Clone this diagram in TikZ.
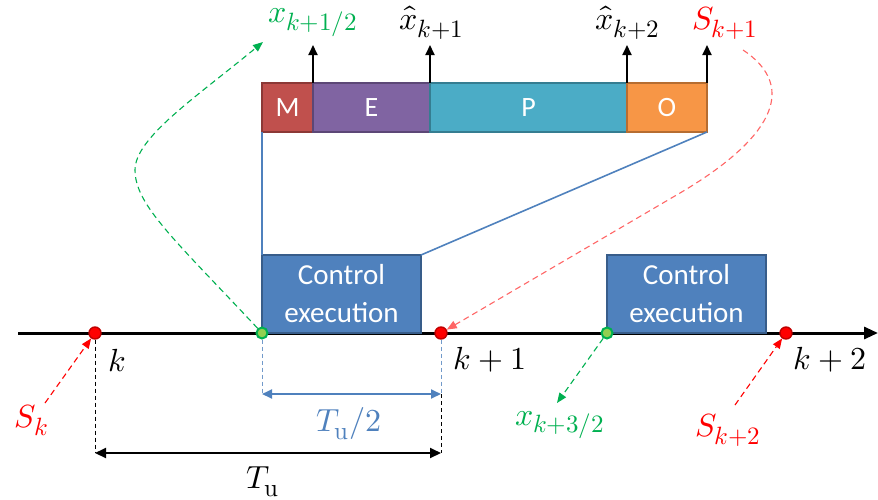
\documentclass[tikz,border=0pt]{standalone}
\usepackage{fontspec}
\setmainfont{Carlito}
\usepackage{unicode-math}
\DeclareMathSizes{16}{16}{12.5}{10}
\usetikzlibrary{arrows.meta}
\definecolor{cblue}{HTML}{4F81BD}
\definecolor{cblued}{HTML}{385D8A}
\definecolor{cM}{HTML}{C0504D}\definecolor{cMd}{HTML}{8C3836}
\definecolor{cE}{HTML}{8064A2}\definecolor{cEd}{HTML}{5C4776}
\definecolor{cP}{HTML}{4BACC6}\definecolor{cPd}{HTML}{357D91}
\definecolor{cO}{HTML}{F79646}\definecolor{cOd}{HTML}{B66D31}
\definecolor{cgreen}{HTML}{00B050}
\definecolor{cgdot}{HTML}{92D050}
\definecolor{cred}{HTML}{FF0000}
\definecolor{credd}{HTML}{C00000}
\definecolor{credl}{HTML}{FF6666}
\begin{document}
\begin{tikzpicture}[x=0.5pt,y=-0.5pt,
  seg/.style={draw, line width=1pt, inner sep=0pt, outer sep=0pt, minimum height=24.5pt, anchor=north west, text=white, font=\fontsize{14}{16}\selectfont},
  ctrl/.style={draw=cblued, fill=cblue, line width=1pt, inner sep=0pt, outer sep=0pt, minimum width=79.5pt, minimum height=39pt, anchor=south west, text=white, align=center, font=\fontsize{14.5}{19}\selectfont},
  reddot/.style={circle, draw=credd, fill=cred, line width=0.7pt, minimum size=6pt, inner sep=0pt},
  greendot/.style={circle, draw=cgreen, fill=cgdot, line width=1pt, minimum size=5.5pt, inner sep=0pt},
  lab/.style={font=\fontsize{16}{18}\selectfont, inner sep=0pt},
  uparrow/.style={line width=0.9pt, -{Triangle[length=5pt,width=4.5pt]}},
  gdash/.style={cgreen, dashed, dash pattern=on 3pt off 2pt, line width=0.55pt, -{Triangle[length=5pt,width=4pt]}},
  rdash/.style={credl, dashed, dash pattern=on 3pt off 2pt, line width=0.55pt, -{Triangle[length=5pt,width=4pt]}},
  rdashs/.style={cred, dashed, dash pattern=on 3pt off 2pt, line width=0.55pt, -{Triangle[length=5pt,width=4pt]}},
  bdash/.style={cblue!80, dashed, dash pattern=on 2pt off 1.5pt, line width=0.5pt},
  kdash/.style={black, dashed, dash pattern=on 2pt off 1.5pt, line width=0.5pt},
]
\useasboundingbox (0,0) rectangle (878,499);
% timeline
\coordinate (tl0) at (18,333);
\coordinate (tl1) at (878,333);
\draw[line width=1.5pt, -{Triangle[length=7pt,width=6pt]}] (tl0) -- (tl1);
% control boxes
\node[ctrl] (C1) at (262,333) {Control\\execution};
\node[ctrl] (C2) at (607,333) {Control\\execution};
% MEPO bar
\node[seg, draw=cMd, fill=cM, minimum width=25.5pt] (M) at (262,83) {M};
\node[seg, draw=cEd, fill=cE, minimum width=58.5pt] (E) at (313,83) {E};
\node[seg, draw=cPd, fill=cP, minimum width=98.5pt] (P) at (430,83) {P};
\node[seg, draw=cOd, fill=cO, minimum width=40pt] (O) at (627,83) {O};
% trapezoid lines
\draw[cblue, line width=0.8pt] (M.south west) -- (C1.north west);
\draw[cblue, line width=0.8pt] (O.south east) -- (C1.north east);
% up arrows
\draw[uparrow] (M.north east) -- ++(0,-38);
\draw[uparrow] (E.north east) -- ++(0,-38);
\draw[uparrow] (P.north east) -- ++(0,-38);
\draw[uparrow] (O.north east) -- ++(0,-38);
% top labels
\node[lab, text=cgreen] (xh) at (313,23) {$x_{k+1/2}$};
\node[lab] (xk1) at (432,23) {$\hat{x}_{k+1}$};
\node[lab] (xk2) at (628,23) {$\hat{x}_{k+2}$};
\node[lab, text=cred] (Sk1) at (725,23) {$S_{k+1}$};
% dots
\node[reddot] (r1) at (95,333) {};
\node[reddot] (r2) at (441,333) {};
\node[reddot] (r3) at (786,333) {};
\node[greendot] (g1) at (262,333) {};
\node[greendot] (g2) at (607,333) {};
% timeline labels
\node[lab] (k0) at (117,361) {$k$};
\node[lab] (k1) at (490,360) {$k+1$};
\node[lab] (k2) at (830,360) {$k+2$};
% curved dashed arrows
\coordinate (gend) at (263,42);
\draw[gdash] (g1) .. controls (175,240) and (135,205) .. (135,170)
   .. controls (135,138) and (195,98) .. (gend);
\coordinate (rstart) at (743,50);
\coordinate (rmid) at (680,193);
\draw[rdash] (rstart) .. controls (800,88) and (770,140) .. (rmid) -- (r2);
% lower labels and short arrows
\node[lab, text=cred] (Sk) at (32,420) {$S_k$};
\coordinate (sks) at (45,403);
\draw[rdashs] (sks) -- (r1);
\node[lab, text=cgreen] (x32) at (560,425) {$x_{k+3/2}$};
\coordinate (x32e) at (557,403);
\draw[gdash] (g2) -- (x32e);
\node[lab, text=cred] (Sk2) at (728,430) {$S_{k+2}$};
\coordinate (sk2s) at (735,405);
\draw[rdashs] (sk2s) -- (r3);
% dimension lines
\coordinate (b1) at (262,394);
\coordinate (b2) at (441,394);
\coordinate (a1) at (95,453);
\coordinate (a2) at (441,453);
\draw[bdash] (g1) -- (b1);
\draw[bdash] (r2) -- (b2);
\draw[kdash] (b2) -- (a2);
\draw[kdash] (r1) -- (a1);
\draw[cblue, line width=0.9pt, {Triangle[length=5pt,width=4.5pt]}-{Triangle[length=5pt,width=4.5pt]}] (b1) -- (b2);
\draw[black, line width=1pt, {Triangle[length=5.5pt,width=5pt]}-{Triangle[length=5.5pt,width=5pt]}] (a1) -- (a2);
\node[lab, text=cblue] (Tu2) at (349,424) {$T_{\symup{u}}/2$};
\node[lab] (Tu) at (263,482) {$T_{\symup{u}}$};
\end{tikzpicture}
\end{document}
